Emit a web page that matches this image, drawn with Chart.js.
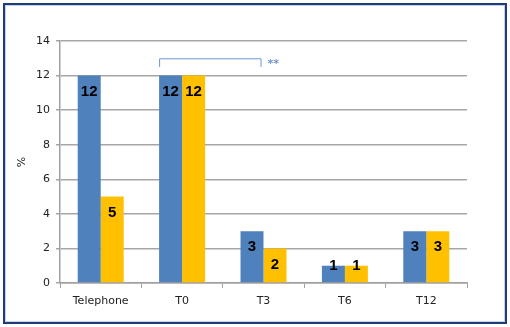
<!DOCTYPE html>
<html>
<head>
<meta charset="utf-8">
<script src="https://cdn.jsdelivr.net/npm/chart.js@4"></script>
<style>
  body { margin: 0; background: #fff; }
  #wrap { width: 510px; height: 327px; }
</style>
</head>
<body>
<div id="wrap"><canvas id="chart" width="510" height="327"></canvas></div>
<script>
const categories = ['Telephone', 'T0', 'T3', 'T6', 'T12'];
const seriesA = [12, 12, 3, 1, 3];
const seriesB = [5, 12, 2, 1, 3];
const yTicks = [0, 2, 4, 6, 8, 10, 12, 14];
// significance bracket between T0 and T3
const bracket = { from: 'T0', to: 'T3', y: 13, drop: 12.5, label: '**' };

// frame around the picture
const framePlugin = {
    id: 'frame',
    beforeDraw(chart) {
        const c = chart.ctx;
        c.save();
        c.fillStyle = '#fff';
        c.fillRect(0, 0, chart.width, chart.height);
        c.strokeStyle = '#c5d3e8';
        c.lineWidth = 1;
        c.strokeRect(5.5, 5.5, chart.width - 11, chart.height - 11);
        c.strokeStyle = '#1f3b78';
        c.lineWidth = 2;
        c.strokeRect(4, 4, chart.width - 8, chart.height - 8);
        c.restore();
    }
};

// value labels inside the top of the bars
const labelPlugin = {
    id: 'barLabels',
    afterDatasetsDraw(chart) {
        const c = chart.ctx;
        c.save();
        c.font = 'bold 15px "Liberation Sans"';
        c.fillStyle = '#000';
        c.textAlign = 'center';
        c.textBaseline = 'middle';
        chart.data.datasets.forEach((ds, i) => {
            chart.getDatasetMeta(i).data.forEach((bar, j) => {
                const y = Math.min(bar.y + 16, bar.base - 16);
                c.fillText(ds.data[j], bar.x, y);
            });
        });
        c.restore();
    }
};

const bracketPlugin = {
    id: 'bracket',
    afterDatasetsDraw(chart) {
        const c = chart.ctx;
        const meta = chart.getDatasetMeta(0);
        const i0 = categories.indexOf(bracket.from);
        const i1 = categories.indexOf(bracket.to);
        const b0 = meta.data[i0];
        const x0 = b0.x - b0.width / 2;
        const x1 = chart.scales.x.getPixelForValue(i1) - 3;
        const y = chart.scales.y.getPixelForValue(bracket.y);
        const yd = chart.scales.y.getPixelForValue(bracket.drop);
        c.save();
        c.strokeStyle = '#6f97cf';
        c.lineWidth = 1;
        c.beginPath();
        c.moveTo(x0 + 0.5, yd);
        c.lineTo(x0 + 0.5, y + 0.5);
        c.lineTo(x1 + 0.5, y + 0.5);
        c.lineTo(x1 + 0.5, yd);
        c.stroke();
        c.fillStyle = '#6f97cf';
        c.font = 'bold 11px "DejaVu Sans"';
        c.textBaseline = 'middle';
        c.fillText(bracket.label, x1 + 7, (y + yd) / 2 + 2);
        c.restore();
    }
};

const ctx = document.getElementById('chart').getContext('2d');
const chart = new Chart(ctx, {
    type: 'bar',
    data: {
        labels: categories,
        datasets: [{
            data: seriesA,
            backgroundColor: '#4f81bd',
            categoryPercentage: 0.565,
            barPercentage: 1
        }, {
            data: seriesB,
            backgroundColor: '#ffc000',
            categoryPercentage: 0.565,
            barPercentage: 1
        }]
    },
    options: {
        responsive: false,
        animation: false,
        layout: { padding: { left: 0, right: 43, top: 41, bottom: 12 } },
        plugins: {
            legend: { display: false },
            tooltip: { enabled: false }
        },
        scales: {
            x: {
                grid: { offset: true, drawOnChartArea: false, drawTicks: true, tickLength: 5, color: '#a0a0a0' },
                border: { color: '#a0a0a0', width: 1.5 },
                ticks: { color: '#222', font: { family: 'DejaVu Sans', size: 11 }, padding: 7 },
                afterFit(scale) { scale.height = 32; }
            },
            y: {
                min: 0,
                max: 14,
                afterBuildTicks(scale) { scale.ticks = yTicks.map(v => ({ value: v })); },
                grid: { color: '#a6a6a6', lineWidth: 1.5, tickLength: 4 },
                border: { color: '#a0a0a0', width: 1.5 },
                ticks: { color: '#222', font: { family: 'DejaVu Sans', size: 11 }, padding: 6 },
                title: { display: true, text: '%', color: '#222', font: { family: 'DejaVu Sans', size: 11 }, padding: { top: 16, bottom: 0 } },
                afterFit(scale) { scale.width = 60; }
            }
        }
    },
    plugins: [framePlugin, labelPlugin, bracketPlugin]
});
</script>
</body>
</html>
